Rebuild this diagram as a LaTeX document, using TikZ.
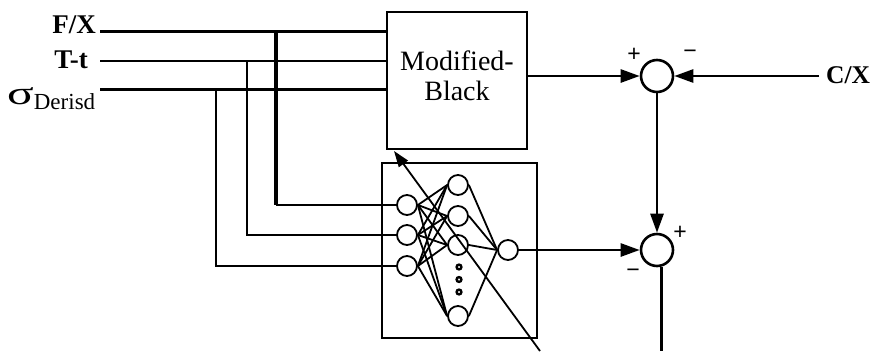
\documentclass[tikz,border=0pt]{standalone}
\usepackage{fontspec}
\setmainfont{Liberation Serif}
\newfontfamily\signfont{Liberation Sans}
\usetikzlibrary{arrows.meta}

\begin{document}
\begin{tikzpicture}[x=1pt,y=-1pt,
  wire/.style={line width=2.6pt},
  thickwire/.style={line width=3.6pt},
  box/.style={draw,rectangle,line width=2.6pt,inner sep=0pt},
  neuron/.style={draw,circle,line width=1.8pt,minimum size=20pt,inner sep=0pt},
  sumnode/.style={draw,circle,line width=2.6pt,minimum size=32pt,inner sep=0pt},
  link/.style={line width=1.8pt},
  bigtip/.style={-{Triangle[length=19pt,width=13pt]}},
  lbl/.style={font=\fontsize{27}{30}\selectfont\bfseries,inner sep=0pt},
  sign/.style={font=\signfont\fontsize{23}{23}\selectfont,inner sep=0pt},
]
\useasboundingbox (0,0) rectangle (872,351);

% input labels
\node[lbl,anchor=base east] (fx) at (96,33.5) {F/X};
\node[lbl,anchor=base east] (tt) at (88,68) {T-t};
\node[inner sep=0pt,anchor=base west] (sg) at (7,104)
  {\scalebox{1.5}[1]{\fontsize{33}{33}\selectfont σ}\raisebox{-5pt}{\fontsize{23}{23}\selectfont Derisd}};
\node[lbl,anchor=base west,font=\fontsize{25.5}{30}\selectfont\bfseries] (cx) at (826,83) {C/X};

% pricing block and network block
\node[box,minimum width=140pt,minimum height=137pt] (mb) at (457,80.5) {};
\node[align=center,inner sep=0pt,font=\fontsize{28}{30}\selectfont]
  (mbtext) at (457,76) {Modified-\\Black};
\node[box,minimum width=155pt,minimum height=175pt] (nn) at (459.5,250.5) {};

% neurons
\node[neuron] (i1) at (407,205) {};
\node[neuron] (i2) at (407,235) {};
\node[neuron] (i3) at (407,266) {};
\node[neuron] (h1) at (458,185) {};
\node[neuron] (h2) at (458,216) {};
\node[neuron] (h3) at (458,245) {};
\node[neuron] (h4) at (458,316) {};
\node[neuron] (o)  at (508,250) {};
\foreach \yy in {267,279.5,292}
  \draw[line width=2.4pt] (459,\yy) circle (2.4pt);

% summing junctions
\node[sumnode] (s1) at (657,76) {};
\node[sumnode] (s2) at (657,250) {};
\node[sign] at (634,55) {+};
\node[sign] at (690,54) {−};
\node[sign] at (680,233) {+};
\node[sign] at (633,273) {−};

% wire ends and junctions
\coordinate (fxs) at (100,31.5);
\coordinate (tts) at (100,61);
\coordinate (sgs) at (100,89.5);
\coordinate (fxj) at (276,31.5);
\coordinate (ttj) at (247,61);
\coordinate (sgj) at (216,89.5);
\coordinate (cxs) at (819,76);
\coordinate (bot) at (661,351);
\coordinate (dstart) at (540,351);
\coordinate (dend) at (394,151);

% inputs to the pricing block
\draw[wire] (fxs) -- (fxs -| mb.west);
\draw[wire] (tts) -- (tts -| mb.west);
\draw[wire] (sgs) -- (sgs -| mb.west);

% inputs to the network
\draw[thickwire] (fxj) -- (fxj |- i1.west);
\draw[wire] (fxj |- i1.west) -- (i1.west);
\draw[wire] (ttj) |- (i2.west);
\draw[wire] (sgj) |- (i3.west);

% network connections
\foreach \a in {i1,i2,i3}
  \foreach \b in {h1,h2,h3,h4}
    \draw[link] (\a.east) -- (\b.west);
\foreach \b in {h1,h2,h3,h4}
  \draw[link] (\b.east) -- (o.west);

% signal flow
\draw[wire,bigtip] (mb.east |- s1) -- (s1.west);
\draw[wire,bigtip] (cxs) -- (s1.east);
\draw[wire,bigtip] (s1.south) -- (s2.north);
\draw[wire,bigtip] (o.east) -- (s2.west);
\draw[wire] (s2.-75.5) -- (s2.-75.5 |- bot);

% error feedback to the network
\draw[link,-{Triangle[length=16pt,width=11pt]}] (dstart) -- (dend);
\end{tikzpicture}
\end{document}
